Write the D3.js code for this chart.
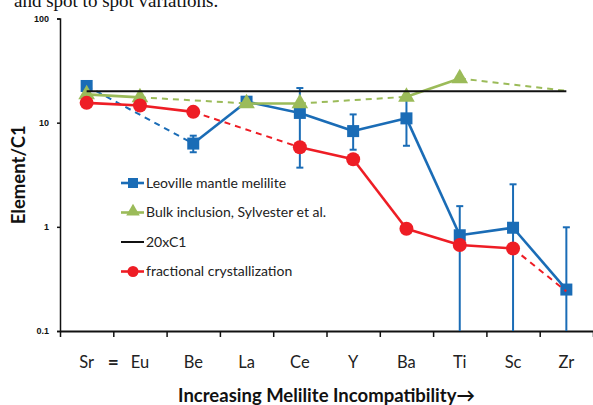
<!DOCTYPE html>
<html>
<head>
<meta charset="utf-8">
<script src="https://cdn.jsdelivr.net/npm/d3@7"></script>
<style>
  body { margin: 0; background: #fff; }
  svg { display: block; }
</style>
</head>
<body>
<div id="chart"></div>
<script>
"use strict";

// element order along the x axis
const categories = ["Sr", "Eu", "Be", "La", "Ce", "Y", "Ba", "Ti", "Sc", "Zr"];
const yTicks = [0.1, 1, 10, 100];

// null = no value for that element
const leoville = [22.5, null, 6.3, 15.9, 12.4, 8.3, 11.0, 0.83, 0.98, 0.25];
const leovilleLow = [null, null, 5.2, null, 3.7, 5.5, 6.0, 0.1, 0.1, 0.1];
const leovilleHigh = [null, null, 7.5, null, 21.5, 12.0, 18.4, 1.58, 2.56, 0.99];
const bulk = [18.7, 17.5, null, 15.3, 15.3, null, 17.7, 26.6, null, 20.2];
const fractional = [15.5, 14.6, 12.7, null, 5.8, 4.45, 0.96, 0.67, 0.62, 0.24];
const chondrite20 = 20;
// points that are only an extrapolated end (no marker)
const bulkNoMarker = ["Zr"];
const fractionalNoMarker = ["Zr"];

const width = 593, height = 405;
const margin = { top: 18.5, right: 0, bottom: 74, left: 60 };

const svg = d3.select("#chart").append("svg")
  .attr("width", width)
  .attr("height", height);

// bit of the document text above the chart, cut off by the crop
svg.append("text")
  .attr("x", 14).attr("y", 7)
  .attr("font-family", "Liberation Serif, serif")
  .attr("font-size", 19)
  .attr("fill", "#111")
  .text("and spot to spot variations.");

var x = d3.scaleBand().domain(categories).range([margin.left, width - margin.right]);
var xEdge = d3.scaleLinear().domain([0, categories.length]).range([margin.left, width - margin.right]);
var y = d3.scaleLog().domain([0.1, 100]).range([height - margin.bottom, margin.top]);
const cx = function (c) { return x(c) + x.bandwidth() / 2; };

const blue = "#1a6cb6", green = "#9bbb59", red = "#ee1d25";

// y axis
var gy = svg.append("g")
  .attr("transform", "translate(" + margin.left + ",0)")
  .call(d3.axisLeft(y).tickValues(yTicks).tickSize(3).tickFormat(d3.format("~g")));
gy.select(".domain").attr("stroke", "#111").attr("stroke-width", 1.5);
gy.selectAll(".tick line").attr("stroke", "#111").attr("stroke-width", 1.5);
gy.selectAll("text")
  .attr("font-family", "Liberation Sans, Arial, sans-serif")
  .attr("font-weight", "bold")
  .attr("font-size", 9)
  .attr("fill", "#111")
  .attr("dx", "-5");

// x axis: tick marks on band edges, labels in the middle
var gx = svg.append("g")
  .attr("transform", "translate(0," + (height - margin.bottom) + ")")
  .call(d3.axisBottom(xEdge).tickValues(d3.range(0, categories.length + 1)).tickSize(6).tickSizeOuter(0).tickFormat(""));
gx.select(".domain").attr("stroke", "#111").attr("stroke-width", 2);
gx.selectAll(".tick line").attr("stroke", "#111").attr("stroke-width", 1.5);

var gxl = svg.append("g")
  .attr("transform", "translate(0," + (height - margin.bottom) + ")")
  .call(d3.axisBottom(x).tickSize(0).tickPadding(25));
gxl.select(".domain").remove();
gxl.selectAll("text")
  .attr("font-family", "Lato, Open Sans, sans-serif")
  .attr("font-size", 16.5)
  .attr("fill", "#222");

// the "=" between Sr and Eu
svg.append("text")
  .attr("x", xEdge(1)).attr("y", height - margin.bottom + 38)
  .attr("text-anchor", "middle")
  .attr("font-family", "Lato, sans-serif")
  .attr("font-size", 19)
  .attr("font-weight", "bold")
  .attr("fill", "#222")
  .text("=");

// axis titles
svg.append("text")
  .attr("x", (margin.left + width - margin.right) / 2).attr("y", 402)
  .attr("text-anchor", "middle")
  .attr("font-family", "Lato, sans-serif")
  .attr("font-weight", "bold")
  .attr("font-size", 18.5)
  .attr("fill", "#111")
  .text("Increasing Melilite Incompatibility\u2192");

svg.append("text")
  .attr("transform", "translate(25," + ((margin.top + height - margin.bottom) / 2) + ") rotate(-90)")
  .attr("text-anchor", "middle")
  .attr("font-family", "Lato, sans-serif")
  .attr("font-weight", "bold")
  .attr("font-size", 18.5)
  .attr("fill", "#111")
  .text("Element/C1");

// turn a series into segments; dashed where a gap is bridged or the end has no marker
function segments(values, noMarker) {
  var pts = [];
  values.forEach(function (v, i) {
    if (v != null) pts.push({ i: i, c: categories[i], v: v });
  });
  var segs = [];
  for (var k = 1; k < pts.length; k++) {
    var a = pts[k - 1], b = pts[k];
    var dashed = (b.i - a.i > 1) || noMarker.indexOf(b.c) >= 0 || noMarker.indexOf(a.c) >= 0;
    segs.push({ a: a, b: b, dashed: dashed });
  }
  return { pts: pts.filter(function (p) { return noMarker.indexOf(p.c) < 0; }), segs: segs };
}

function drawLines(g, segs, color) {
  g.selectAll("line.seg").data(segs).enter().append("line")
    .attr("class", "seg")
    .attr("x1", function (d) { return cx(d.a.c); })
    .attr("y1", function (d) { return y(d.a.v); })
    .attr("x2", function (d) { return cx(d.b.c); })
    .attr("y2", function (d) { return y(d.b.v); })
    .attr("stroke", color)
    .attr("stroke-width", function (d) { return d.dashed ? 2 : 2.6; })
    .attr("stroke-dasharray", function (d) { return d.dashed ? "6,5" : null; });
}

// Leoville mantle melilite, with error bars
var blueSeries = segments(leoville, []);
var gBlue = svg.append("g");
var bars = categories.map(function (c, i) {
  return { c: c, lo: leovilleLow[i], hi: leovilleHigh[i] };
}).filter(function (d) { return d.hi != null; });
gBlue.selectAll("line.err").data(bars).enter().append("line")
  .attr("class", "err")
  .attr("x1", function (d) { return cx(d.c); })
  .attr("x2", function (d) { return cx(d.c); })
  .attr("y1", function (d) { return y(d.lo); })
  .attr("y2", function (d) { return y(d.hi); })
  .attr("stroke", blue).attr("stroke-width", 2);
var caps = [];
bars.forEach(function (d) {
  caps.push({ c: d.c, v: d.hi });
  if (d.lo > 0.1) caps.push({ c: d.c, v: d.lo });
});
gBlue.selectAll("line.cap").data(caps).enter().append("line")
  .attr("class", "cap")
  .attr("x1", function (d) { return cx(d.c) - 3.5; })
  .attr("x2", function (d) { return cx(d.c) + 3.5; })
  .attr("y1", function (d) { return y(d.v); })
  .attr("y2", function (d) { return y(d.v); })
  .attr("stroke", blue).attr("stroke-width", 2);
drawLines(gBlue, blueSeries.segs, blue);
gBlue.selectAll("rect").data(blueSeries.pts).enter().append("rect")
  .attr("x", function (d) { return cx(d.c) - 6; })
  .attr("y", function (d) { return y(d.v) - 6; })
  .attr("width", 12).attr("height", 12)
  .attr("fill", blue);

// Bulk inclusion
var greenSeries = segments(bulk, bulkNoMarker);
var gGreen = svg.append("g");
drawLines(gGreen, greenSeries.segs, green);
var tri = d3.symbol().type(d3.symbolTriangle).size(120);
gGreen.selectAll("path").data(greenSeries.pts).enter().append("path")
  .attr("d", tri)
  .attr("transform", function (d) { return "translate(" + cx(d.c) + "," + y(d.v) + ")"; })
  .attr("fill", green);

// 20 x C1 reference line
svg.append("line")
  .attr("x1", cx(categories[0]))
  .attr("x2", cx(categories[categories.length - 1]))
  .attr("y1", y(chondrite20))
  .attr("y2", y(chondrite20))
  .attr("stroke", "#111").attr("stroke-width", 2);

// fractional crystallization
var redSeries = segments(fractional, fractionalNoMarker);
var gRed = svg.append("g");
drawLines(gRed, redSeries.segs, red);
gRed.selectAll("circle").data(redSeries.pts).enter().append("circle")
  .attr("cx", function (d) { return cx(d.c); })
  .attr("cy", function (d) { return y(d.v); })
  .attr("r", 7)
  .attr("fill", red);

// legend
const legendItems = [
  { label: "Leoville mantle melilite", color: blue, marker: "square" },
  { label: "Bulk inclusion, Sylvester et al.", color: green, marker: "triangle" },
  { label: "20xC1", color: "#111", marker: null },
  { label: "fractional crystallization", color: red, marker: "circle" }
];
var legend = svg.append("g").attr("transform", "translate(121,183)");
legendItems.forEach(function (d, i) {
  var row = legend.append("g").attr("transform", "translate(0," + (i * 29.5) + ")");
  row.append("line").attr("x1", 0).attr("x2", 23).attr("y1", 0).attr("y2", 0)
    .attr("stroke", d.color).attr("stroke-width", d.marker ? 2.6 : 2);
  if (d.marker === "square") {
    row.append("rect").attr("x", 7).attr("y", -5).attr("width", 10).attr("height", 10).attr("fill", d.color);
  } else if (d.marker === "triangle") {
    row.append("path").attr("d", d3.symbol().type(d3.symbolTriangle).size(80))
      .attr("transform", "translate(12,-1)").attr("fill", d.color);
  } else if (d.marker === "circle") {
    row.append("circle").attr("cx", 12).attr("cy", 0).attr("r", 5.5).attr("fill", d.color);
  }
  row.append("text").attr("x", 25).attr("y", 0).attr("dy", "0.35em")
    .attr("font-family", "Lato, Open Sans, sans-serif")
    .attr("font-size", 14)
    .attr("fill", "#222")
    .text(d.label);
});
</script>
</body>
</html>
